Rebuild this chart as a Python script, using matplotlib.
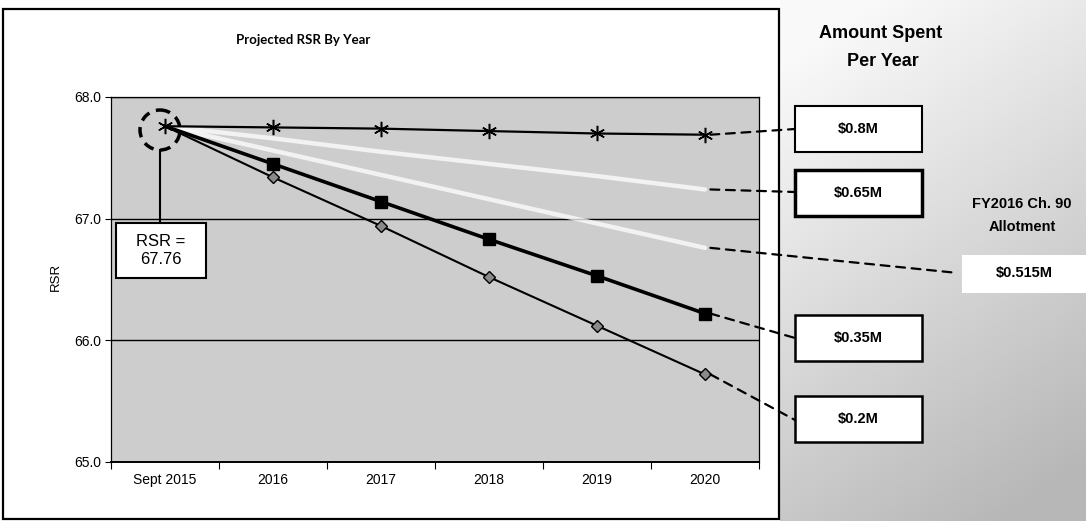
import matplotlib
matplotlib.use("Agg")
import matplotlib.pyplot as plt
import numpy as np
from matplotlib.patches import Rectangle, Circle, ConnectionPatch

# ---------------- data ----------------
categories = ["Sept 2015", "2016", "2017", "2018", "2019", "2020"]
rsr_080 = [67.76, 67.75, 67.74, 67.72, 67.70, 67.69]
rsr_065 = [67.76, 67.66, 67.55, 67.45, 67.35, 67.24]
rsr_0515 = [67.76, 67.56, 67.36, 67.16, 66.96, 66.76]
rsr_035 = [67.76, 67.45, 67.14, 66.83, 66.53, 66.22]
rsr_020 = [67.76, 67.34, 66.94, 66.52, 66.12, 65.72]
amount_labels = ["$0.8M", "$0.65M", "$0.515M", "$0.35M", "$0.2M"]
y_ticks = [65.0, 66.0, 67.0, 68.0]
start_value = 67.76

W, H = 1086, 521
SANS = ["Liberation Sans", "DejaVu Sans"]

fig = plt.figure(figsize=(W / 100, H / 100), dpi=100)
fig.patch.set_facecolor("white")

# ---------------- background layer ----------------
bg = fig.add_axes([0, 0, 1, 1], zorder=0)
bg.set_xlim(0, W)
bg.set_ylim(H, 0)
bg.axis("off")
gx = np.linspace(0, 1, 200)
gy = np.linspace(0, 1, 200)
GX, GY = np.meshgrid(gx, gy)
g = 0.98 - 0.26 * np.clip(GY * 0.85 + GX * 0.35 - 0.1, 0, 1)
bg.imshow(np.dstack([g, g, g]), extent=[780, W, H, 0], aspect="auto",
          interpolation="bilinear", zorder=0)
bg.add_patch(Rectangle((962, 255), 124, 38, facecolor="white", edgecolor="none", zorder=1))
bg.add_patch(Rectangle((3, 9), 776, 510, facecolor="white", edgecolor="black", lw=1.6, zorder=1))

# ---------------- plot ----------------
ax = fig.add_axes([111 / W, (H - 462) / H, 648 / W, 365 / H], zorder=1)
ax.set_facecolor("#cdcdcd")
x = np.arange(len(categories))

ax.plot(x, rsr_065, color="white", lw=3.2, alpha=0.75, solid_capstyle="round", zorder=2)
ax.plot(x, rsr_0515, color="white", lw=3.2, alpha=0.75, solid_capstyle="round", zorder=2)
ax.plot(x, rsr_080, color="black", lw=1.6, marker=(6, 2, 0), ms=11, mew=1.1, zorder=3)
ax.plot(x, rsr_035, color="black", lw=2.6, marker="s", ms=8, markevery=slice(1, None), zorder=4)
ax.plot(x, rsr_020, color="black", lw=1.5, marker="D", ms=6, mfc="#8a8a8a", mec="black",
        mew=1.0, markevery=slice(1, None), zorder=4)

ax.set_xlim(-0.5, len(categories) - 0.5)
ax.set_ylim(y_ticks[0], y_ticks[-1])
ax.set_yticks(y_ticks)
ax.set_yticklabels([f"{v:.1f}" for v in y_ticks], fontsize=10, family=SANS)
ax.set_xticks(np.arange(-0.5, len(categories), 1))
ax.set_xticklabels([])
ax.set_xticks(x, minor=True)
ax.set_xticklabels(categories, minor=True, fontsize=10, family=SANS)
ax.tick_params(axis="x", which="major", length=5, direction="out", width=0.8)
ax.tick_params(axis="x", which="minor", length=0, pad=8)
ax.tick_params(axis="y", length=4, width=0.8, pad=3)
ax.yaxis.grid(True, color="black", lw=1.0)
ax.set_axisbelow(True)
for s in ax.spines.values():
    s.set_linewidth(0.9)
ax.spines["bottom"].set_linewidth(1.4)

# ---------------- foreground annotations ----------------
fg = fig.add_axes([0, 0, 1, 1], zorder=2)
fg.set_xlim(0, W)
fg.set_ylim(H, 0)
fg.axis("off")
fg.patch.set_alpha(0)

fg.text(303, 40, "Projected RSR By Year", ha="center", va="center", fontsize=9.5,
        fontweight="bold", family=["Lato", "DejaVu Sans"])
fg.text(56, 277, "RSR", ha="center", va="center", rotation=90, fontsize=9.5, family=SANS)

fg.add_patch(Circle((160, 130), 20, fill=False, edgecolor="black", lw=2.5, ls=(0, (3, 2))))
fg.plot([160, 160], [150, 223], color="black", lw=1.5)
fg.add_patch(Rectangle((116, 223), 90, 55, facecolor="white", edgecolor="black", lw=1.5))
fg.text(161, 251, f"RSR =\n{start_value:.2f}", ha="center", va="center", fontsize=12,
        family=SANS, linespacing=1.25)

fg.text(881, 34, "Amount Spent", ha="center", va="center", fontsize=13, fontweight="bold", family=SANS)
fg.text(883, 62, "Per Year", ha="center", va="center", fontsize=13, fontweight="bold", family=SANS)
fg.text(1022, 204, "FY2016 Ch. 90", ha="center", va="center", fontsize=10.5, fontweight="bold", family=SANS)
fg.text(1022, 227, "Allotment", ha="center", va="center", fontsize=10.5, fontweight="bold", family=SANS)

# boxes: (label index, top, height, linewidth)
box_specs = [(0, 106, 46, 1.5), (1, 170, 46, 2.5), (3, 315, 46, 1.8), (4, 396, 46, 1.8)]
for idx, top, h, lw in box_specs:
    fg.add_patch(Rectangle((795, top), 127, h, facecolor="white", edgecolor="black", lw=lw))
    fg.text(858, top + h / 2, amount_labels[idx].replace("$", r"\$"), ha="center", va="center",
            fontsize=10.5, fontweight="bold", family=SANS)
fg.text(1024, 273, amount_labels[2].replace("$", r"\$"), ha="center", va="center",
        fontsize=10.5, fontweight="bold", family=SANS)

# dashed connectors from series end points to labels
series_ends = [rsr_080, rsr_065, rsr_0515, rsr_035, rsr_020]
targets = [(795, 129), (795, 192), (958, 273), (795, 338), (795, 420)]
for s, (tx, ty) in zip(series_ends, targets):
    cp = ConnectionPatch(xyA=(x[-1] + 0.05, s[-1]), coordsA=ax.transData,
                         xyB=(tx, ty), coordsB=fg.transData,
                         color="black", lw=1.6, ls=(0, (4, 3)), zorder=5)
    fg.add_artist(cp)

fig.savefig("out.png", dpi=100)
